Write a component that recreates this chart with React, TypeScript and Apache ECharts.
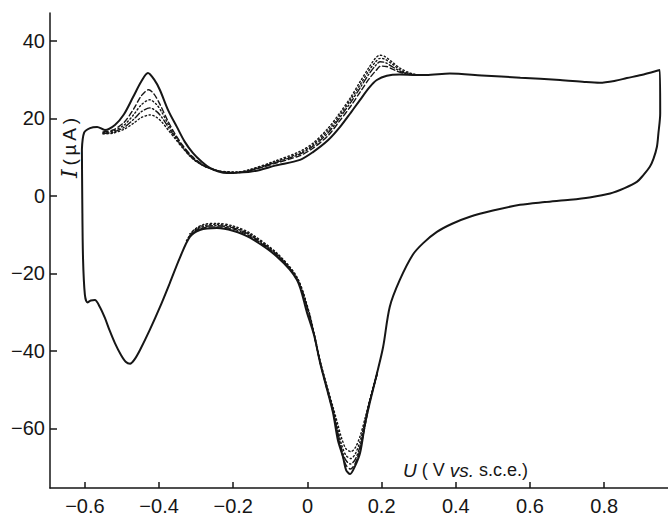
import React, { useEffect, useRef } from "react";
import * as echarts from "echarts";

// Potential (V vs. s.c.e.) and current (µA) pairs of the cyclic voltammogram.
// First cycle: full closed loop.
const cycle1: number[][] = [
  [-0.608, 12], [-0.602, 16.3], [-0.586, 17.5], [-0.567, 17.8], [-0.546, 17.0],
  [-0.519, 18.3], [-0.495, 21], [-0.47, 25.5], [-0.448, 29.5], [-0.43, 31.7],
  [-0.413, 30], [-0.398, 27.4], [-0.375, 22], [-0.352, 17.8], [-0.331, 14],
  [-0.309, 11.1], [-0.285, 8.8], [-0.263, 7.2], [-0.24, 6.3], [-0.217, 5.9],
  [-0.189, 6.0], [-0.155, 6.2], [-0.128, 6.7], [-0.087, 7.8], [-0.02, 9.3],
  [0.015, 11.3], [0.056, 14.4], [0.088, 17.8], [0.117, 21.5], [0.142, 24.8],
  [0.167, 28], [0.187, 29.9], [0.214, 31], [0.249, 31.3], [0.295, 31.2],
  [0.32, 31.2], [0.384, 31.6], [0.47, 31.1], [0.574, 30.5], [0.681, 29.9],
  [0.747, 29.4], [0.788, 29.2], [0.83, 29.7], [0.861, 30.4], [0.9, 31.2],
  [0.95, 32.5],
  [0.951, 21.4], [0.946, 16], [0.942, 12.6], [0.933, 9.6], [0.923, 7.5],
  [0.905, 5.3], [0.888, 3.6], [0.855, 2.0], [0.816, 0.6], [0.76, -0.4],
  [0.708, -1.0], [0.64, -1.6], [0.573, -2.3], [0.5, -3.8], [0.438, -5.4],
  [0.39, -7.2], [0.349, -9.3], [0.312, -12.2], [0.284, -15.2], [0.249, -21.7],
  [0.222, -28.6], [0.204, -39], [0.187, -46], [0.168, -53.4], [0.155, -59],
  [0.142, -66.3], [0.128, -69.8], [0.115, -71.8], [0.104, -70.7], [0.096, -67.4],
  [0.082, -63], [0.069, -56], [0.053, -50], [0.034, -43], [0.018, -36],
  [-0.001, -30.2], [-0.028, -21.7], [-0.082, -15.7], [-0.155, -10.8],
  [-0.201, -9.0], [-0.244, -8.3], [-0.29, -8.8], [-0.317, -10.6], [-0.344, -16],
  [-0.371, -22.5], [-0.398, -28.8], [-0.425, -34.6], [-0.451, -39.7],
  [-0.466, -42.2], [-0.478, -43.3], [-0.49, -42.8], [-0.503, -41], [-0.519, -38],
  [-0.533, -34.8], [-0.546, -31.5], [-0.56, -28.6], [-0.573, -26.9],
  [-0.584, -27.0], [-0.593, -27.5], [-0.6, -25.5], [-0.605, -16], [-0.607, -1],
  [-0.608, 12],
];

// Later cycles, anodic branch (where they part from the first cycle).
const cycle2Anodic: number[][] = [
  [-0.551, 16.5], [-0.524, 17], [-0.494, 19], [-0.468, 22.5], [-0.448, 25.8],
  [-0.428, 27.4], [-0.413, 26.2], [-0.397, 23.5], [-0.377, 19.5], [-0.357, 16],
  [-0.336, 13], [-0.311, 10.2], [-0.285, 8.2], [-0.26, 7.0], [-0.229, 6.2],
  [-0.189, 6.0], [-0.155, 6.5], [-0.087, 8.4], [-0.02, 10.4], [0.015, 12.3],
  [0.056, 15.6], [0.088, 19.5], [0.117, 23.2], [0.142, 26.8], [0.167, 30.3],
  [0.186, 32.5], [0.198, 33.5], [0.213, 33.4], [0.234, 32.5], [0.259, 31.6],
  [0.295, 31.2], [0.32, 31.2],
];
const cycle3Anodic: number[][] = [
  [-0.551, 16.3], [-0.524, 16.7], [-0.494, 18.3], [-0.468, 21], [-0.448, 23.5],
  [-0.425, 24.8], [-0.407, 23.6], [-0.392, 21.5], [-0.377, 18.8], [-0.357, 15.6],
  [-0.336, 12.8], [-0.311, 10], [-0.285, 8.1], [-0.26, 7], [-0.229, 6.2],
  [-0.189, 6.1], [-0.155, 6.7], [-0.087, 8.8], [-0.02, 11.1], [0.015, 13.2],
  [0.056, 16.9], [0.088, 20.9], [0.117, 24.9], [0.142, 28.7], [0.167, 32.5],
  [0.184, 34.6], [0.196, 35.5], [0.208, 35.3], [0.229, 34], [0.254, 32.3],
  [0.284, 31.4], [0.32, 31.2],
];
const cycle4Anodic: number[][] = [
  [-0.551, 16.1], [-0.524, 16.4], [-0.494, 17.7], [-0.468, 19.8], [-0.448, 21.7],
  [-0.425, 22.7], [-0.407, 21.8], [-0.392, 20.2], [-0.377, 18], [-0.357, 15.2],
  [-0.336, 12.5], [-0.311, 9.8], [-0.285, 8], [-0.26, 7], [-0.229, 6.2],
  [-0.189, 6.0], [-0.155, 6.6], [-0.087, 8.6], [-0.02, 10.8], [0.015, 12.8],
  [0.056, 16.3], [0.088, 20.3], [0.117, 24.2], [0.142, 27.9], [0.167, 31.6],
  [0.185, 33.8], [0.196, 34.6], [0.21, 34.4], [0.231, 33.2], [0.259, 31.8],
  [0.295, 31.2], [0.32, 31.2],
];
const cycle5Anodic: number[][] = [
  [-0.551, 16], [-0.524, 16.2], [-0.494, 17.2], [-0.468, 18.8], [-0.448, 20.2],
  [-0.423, 20.9], [-0.407, 20.3], [-0.392, 19], [-0.377, 17.2], [-0.357, 14.8],
  [-0.336, 12.3], [-0.311, 9.7], [-0.285, 8], [-0.26, 7], [-0.229, 6.3],
  [-0.189, 6.2], [-0.155, 6.8], [-0.087, 9.0], [-0.02, 11.5], [0.015, 13.6],
  [0.056, 17.5], [0.088, 21.5], [0.117, 25.5], [0.142, 29.5], [0.167, 33.3],
  [0.183, 35.5], [0.195, 36.3], [0.208, 36.0], [0.229, 34.5], [0.249, 33],
  [0.274, 31.8], [0.295, 31.3], [0.32, 31.2],
];

// Later cycles, cathodic branch.
const cycle2Cathodic: number[][] = [
  [0.188, -46], [0.168, -53.2], [0.155, -59.5], [0.142, -65.3], [0.129, -69],
  [0.116, -70.5], [0.104, -69.5], [0.094, -66.8], [0.082, -61.8], [0.069, -55.8],
  [0.051, -49.3], [0.034, -43], [0.018, -36], [0.003, -30], [-0.028, -21.6],
  [-0.082, -15.4], [-0.155, -10.4], [-0.199, -8.6], [-0.244, -8.0], [-0.289, -8.5],
  [-0.317, -10.4],
];
const cycle3Cathodic: number[][] = [
  [0.188, -45.8], [0.168, -52.8], [0.155, -58.3], [0.142, -63.3], [0.129, -66.6],
  [0.117, -67.8], [0.104, -67], [0.093, -64.5], [0.082, -60.3], [0.069, -55],
  [0.051, -48.8], [0.034, -42.7], [0.018, -35.7], [0.003, -29.7], [-0.028, -21.2],
  [-0.082, -15], [-0.155, -9.9], [-0.199, -8.1], [-0.244, -7.4], [-0.289, -7.9],
  [-0.317, -9.8],
];
const cycle4Cathodic: number[][] = [
  [0.188, -46], [0.168, -53], [0.155, -59], [0.142, -64.5], [0.129, -68],
  [0.116, -69.2], [0.104, -68.3], [0.094, -66], [0.082, -61.2], [0.069, -55.5],
  [0.051, -49], [0.034, -42.8], [0.018, -35.8], [0.003, -29.8], [-0.028, -21.4],
  [-0.082, -15.2], [-0.155, -10.1], [-0.199, -8.3], [-0.244, -7.7], [-0.289, -8.2],
  [-0.317, -10.2],
];
const cycle5Cathodic: number[][] = [
  [0.188, -45.5], [0.168, -52.5], [0.155, -57.5], [0.142, -62], [0.129, -65],
  [0.117, -66], [0.104, -65.3], [0.092, -62.5], [0.082, -59], [0.069, -54.5],
  [0.051, -48.5], [0.034, -42.5], [0.018, -35.5], [0.003, -29.5], [-0.028, -21],
  [-0.082, -14.8], [-0.155, -9.6], [-0.199, -7.8], [-0.244, -7.1], [-0.28, -7.4],
  [-0.306, -8.8], [-0.326, -11.5],
];

const xTicks = [-0.6, -0.4, -0.2, 0, 0.2, 0.4, 0.6, 0.8];
const yTicks = [-60, -40, -20, 0, 20, 40];

const INK = "#161616";
const TICK_FONT = "'Liberation Sans', Arial, sans-serif";

const fmt = (v: number) => {
  const s = Number(v.toFixed(1)) === 0 ? "0" : String(Number(v.toFixed(1)));
  return s.replace("-", "\u2212");
};

function curve(data: number[][], width: number, type: any) {
  return {
    type: "line",
    data,
    symbol: "none",
    smooth: 0.3,
    silent: true,
    lineStyle: { color: INK, width, type, cap: "round" },
  };
}

export default function App() {
  const ref = useRef<HTMLDivElement>(null);

  useEffect(() => {
    if (!ref.current) return;
    const chart = echarts.init(ref.current, null, { renderer: "svg" });
    const dashed = [5, 3];
    const dotted = [1.3, 2.6];
    const dashDot = [6, 2.5, 1.3, 2.5];
    chart.setOption({
      animation: false,
      backgroundColor: "#ffffff",
      grid: { left: 50, right: 0, top: 13, bottom: 34 },
      xAxis: {
        type: "value",
        min: -0.694,
        max: 0.972,
        splitLine: { show: false },
        axisLine: { show: true, onZero: false, lineStyle: { color: INK, width: 1.5 } },
        axisTick: {
          show: true,
          inside: true,
          length: 6,
          customValues: xTicks,
          lineStyle: { color: INK, width: 1.5 },
        },
        axisLabel: {
          customValues: xTicks,
          formatter: (v: number) => fmt(v),
          margin: 8,
          fontFamily: TICK_FONT,
          fontSize: 20,
          color: INK,
        },
      },
      yAxis: {
        type: "value",
        min: -75.4,
        max: 47.2,
        splitLine: { show: false },
        axisLine: { show: true, onZero: false, lineStyle: { color: INK, width: 1.5 } },
        axisTick: {
          show: true,
          inside: true,
          length: 7,
          customValues: yTicks,
          lineStyle: { color: INK, width: 1.5 },
        },
        axisLabel: {
          customValues: yTicks,
          formatter: (v: number) => fmt(v),
          margin: 5,
          fontFamily: TICK_FONT,
          fontSize: 20,
          color: INK,
        },
      },
      graphic: [
        {
          type: "text",
          x: 69,
          y: 148,
          rotation: Math.PI / 2,
          silent: true,
          style: {
            text: "{i|I}{n|\u2009(\u2009\u00b5\u2009A\u2009)}",
            align: "center",
            verticalAlign: "middle",
            fill: INK,
            rich: {
              i: { fontFamily: "'DejaVu Serif', serif", fontStyle: "italic", fontSize: 22, fill: INK },
              n: { fontFamily: TICK_FONT, fontSize: 19, fill: INK },
            },
          },
        },
        {
          type: "text",
          x: 403,
          y: 470,
          silent: true,
          style: {
            text: "{i|U}{n| ( V }{i|vs.}{n| s.c.e.)}",
            align: "left",
            verticalAlign: "middle",
            fill: INK,
            rich: {
              i: { fontFamily: TICK_FONT, fontStyle: "italic", fontSize: 19, fill: INK },
              n: { fontFamily: TICK_FONT, fontSize: 18, fill: INK },
            },
          },
        },
      ],
      series: [
        curve(cycle2Anodic, 1.4, dashed),
        curve(cycle3Anodic, 1.4, dotted),
        curve(cycle4Anodic, 1.4, dashDot),
        curve(cycle5Anodic, 1.4, dotted),
        curve(cycle2Cathodic, 1.4, dashed),
        curve(cycle3Cathodic, 1.4, dotted),
        curve(cycle4Cathodic, 1.4, dashDot),
        curve(cycle5Cathodic, 1.4, dotted),
        curve(cycle1, 2, "solid"),
      ],
    });
    return () => chart.dispose();
  }, []);

  return (
    <div
      ref={ref}
      style={{ position: "absolute", left: 0, top: 0, width: 668, height: 522, background: "#fff" }}
    />
  );
}
